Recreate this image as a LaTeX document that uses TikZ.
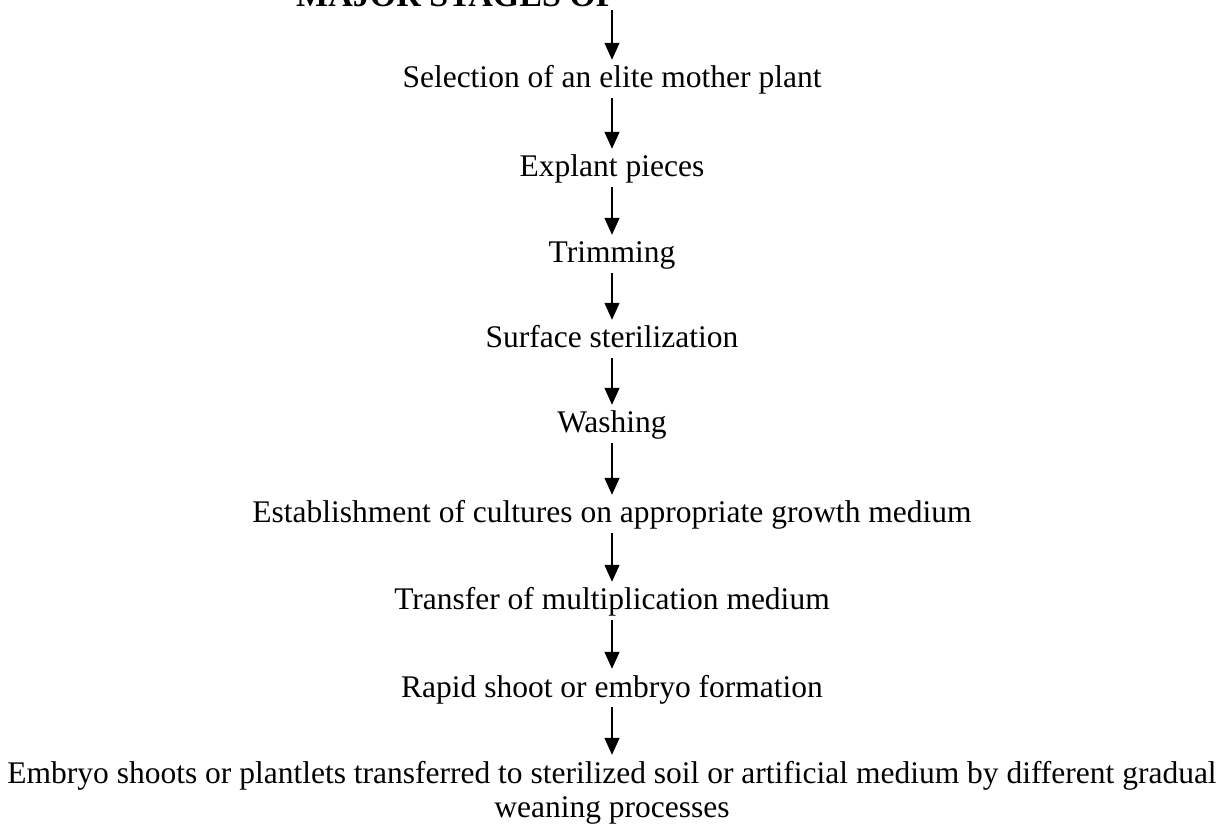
\documentclass[tikz,border=0pt]{standalone}
\usepackage{fontspec}
\setmainfont{Liberation Serif}
\usetikzlibrary{arrows.meta}
\begin{document}
\begin{tikzpicture}[x=1pt,y=1pt,
  stage/.style={font=\fontsize{31.5}{34}\selectfont, inner sep=0pt, anchor=base,
                text height=22pt, text depth=7pt},
  flow/.style={line width=1.3pt, -{Triangle[width=15pt,length=17pt]},
               shorten <=3pt, shorten >=6pt}]
\fill[white] (0,0) rectangle (1228,830);
\useasboundingbox (0,0) rectangle (1228,830);
\node[stage, anchor=base west, font=\fontsize{34}{36}\selectfont\bfseries] (t0) at (296,823) {MAJOR STAGES OF};
\node[stage] (n1) at (612,742) {Selection of an elite mother plant};
\node[stage] (n2) at (612,653) {Explant pieces};
\node[stage] (n3) at (612,567) {Trimming};
\node[stage] (n4) at (612,482) {Surface sterilization};
\node[stage] (n5) at (612,397) {Washing};
\node[stage] (n6) at (612,307) {Establishment of cultures on appropriate growth medium};
\node[stage] (n7) at (612,220) {Transfer of multiplication medium};
\node[stage] (n8) at (612,133) {Rapid shoot or embryo formation};
\node[stage] (n9) at (612,47) {Embryo shoots or plantlets transferred to sterilized soil or artificial medium by different gradual};
\node[stage] (n10) at (612,13) {weaning processes};
\coordinate (c0) at (n1 |- t0.south);
\draw[flow, shorten <=-4pt] (c0) -- (n1);
\draw[flow] (n1) -- (n2);
\draw[flow] (n2) -- (n3);
\draw[flow] (n3) -- (n4);
\draw[flow] (n4) -- (n5);
\draw[flow] (n5) -- (n6);
\draw[flow] (n6) -- (n7);
\draw[flow] (n7) -- (n8);
\draw[flow] (n8) -- (n9);
\end{tikzpicture}
\end{document}
